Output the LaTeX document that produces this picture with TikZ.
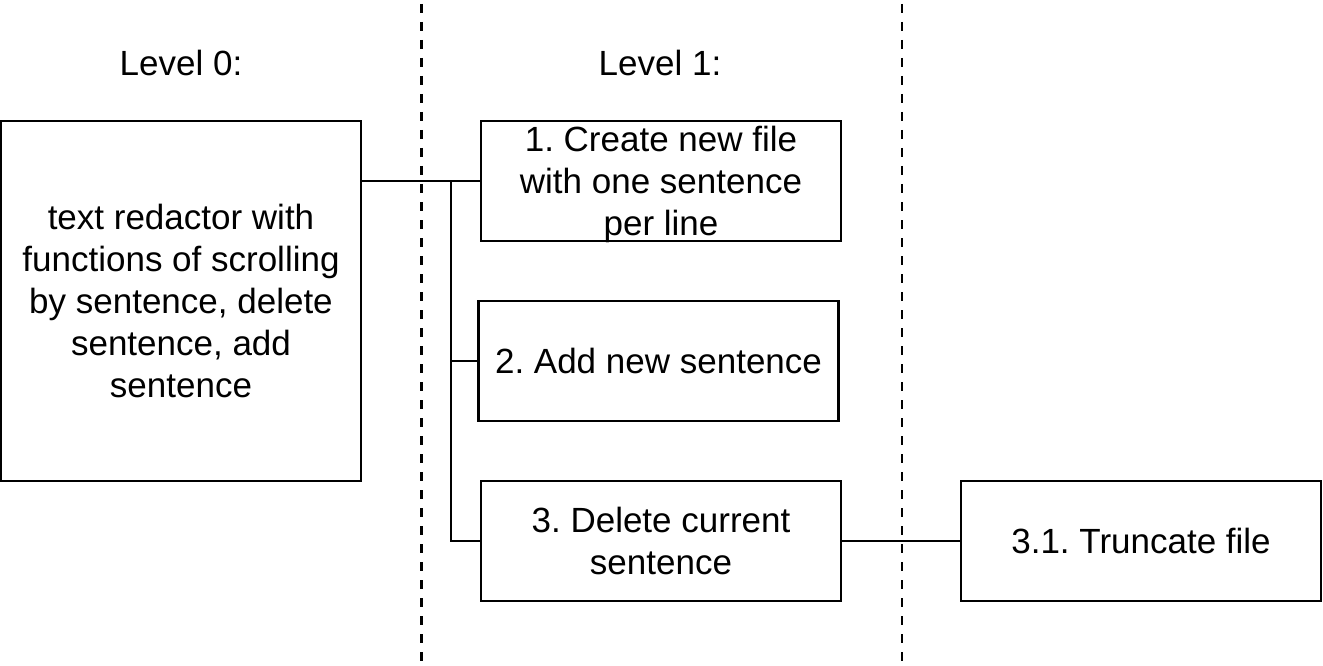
\documentclass[tikz,border=0pt]{standalone}
\usepackage{fontspec}
\setmainfont{Liberation Sans}
\frenchspacing
\newcommand\lnstrut{\rule[-8.5pt]{0pt}{42pt}}
\begin{document}
\begin{tikzpicture}[x=1pt,y=-1pt,
  txt/.style={inner sep=0pt, align=center, font=\fontsize{35}{42}\selectfont},
  box/.style={txt, draw, line width=2.5pt, minimum width=360pt, minimum height=120pt},
  conn/.style={line width=2.5pt},
  divider/.style={line width=2.5pt, dash pattern=on 9pt off 9pt, dash phase=14pt}]
\useasboundingbox (0,0) rectangle (1323,666);
\fill[white] (0,0) rectangle (1323,666);

% dividers
\coordinate (d1t) at (421.5,0);
\coordinate (d1b) at (421.5,666);
\coordinate (d2t) at (902,0);
\coordinate (d2b) at (902,666);
\draw[divider] (d1t) -- (d1b);
\draw[divider] (d2t) -- (d2b);

% level labels
\node[txt] (lv0) at (181,63) {\lnstrut Level 0:};
\node[txt] (lv1) at (660,63) {\lnstrut Level 1:};

% boxes
\node[box, minimum height=360pt] (A) at (181,301)
  {\lnstrut text redactor with\\\lnstrut functions of scrolling\\\lnstrut by sentence, delete\\\lnstrut sentence, add\\\lnstrut sentence};
\node[box, inner ysep=-3pt] (b1) at (661,181)
  {\lnstrut 1. Create new file\\\lnstrut with one sentence\\\lnstrut per line};
\node[box] (b2) at (658.5,361) {\lnstrut 2. Add new sentence};
\node[box] (b3) at (661,541) {\lnstrut 3. Delete current\\\lnstrut sentence};
\node[box] (b31) at (1141,541) {\lnstrut 3.1. Truncate file};

% connectors
\coordinate (j1) at (451,181);
\draw[conn] (A.north east |- b1.west) -- (b1.west);
\draw[conn] (j1) -- (j1 |- b3.west) -- (b3.west);
\draw[conn] (j1 |- b2.west) -- (b2.west);
\draw[conn] (b3.east) -- (b31.west);
\end{tikzpicture}
\end{document}
